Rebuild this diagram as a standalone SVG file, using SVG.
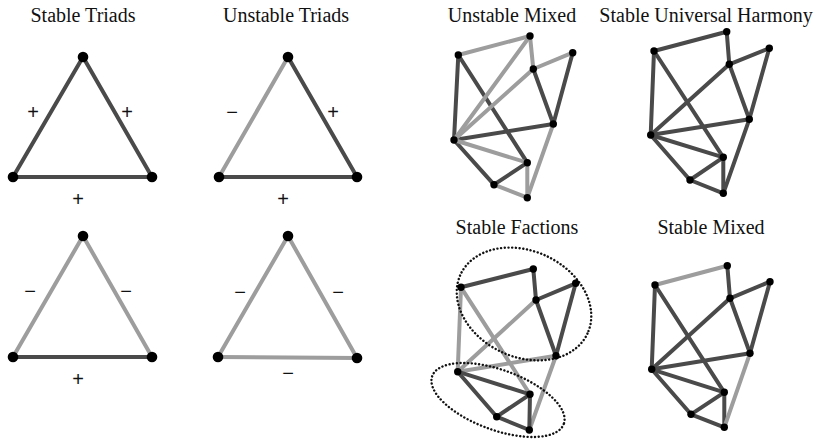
<svg xmlns="http://www.w3.org/2000/svg" width="828" height="440" viewBox="0 0 828 440">
<style>
.title{font-family:"Liberation Serif","Times New Roman",serif;font-size:20px;fill:#111;text-anchor:middle}
.sign{font-family:"Liberation Sans",Arial,sans-serif;font-size:20px;fill:#111;text-anchor:middle}
.dk{stroke:#4a4a4a;stroke-width:4;stroke-linecap:round;fill:none}
.lt{stroke:#9d9d9d;stroke-width:4;stroke-linecap:round;fill:none}
.nd{fill:#000}
.ring{fill:none;stroke:#111;stroke-width:2.4;stroke-linecap:round;stroke-dasharray:0.1 3.6}
</style>
<rect width="828" height="440" fill="#fff"/>

<g id="titles">
<text class="title" x="83" y="22">Stable Triads</text>
<text class="title" x="286" y="22">Unstable Triads</text>
<text class="title" x="512" y="22">Unstable Mixed</text>
<text class="title" x="706" y="22">Stable Universal Harmony</text>
<text class="title" x="517" y="234">Stable Factions</text>
<text class="title" x="711" y="234">Stable Mixed</text>
</g>

<g id="connectors">
<!-- triad 1 -->
<line class="dk" x1="13" y1="177" x2="83" y2="57"/>
<line class="dk" x1="83" y1="57" x2="152" y2="177"/>
<line class="dk" x1="13" y1="177" x2="152" y2="177"/>
<!-- triad 2 -->
<line class="lt" x1="219" y1="177" x2="288" y2="57"/>
<line class="dk" x1="288" y1="57" x2="357" y2="177"/>
<line class="dk" x1="219" y1="177" x2="357" y2="177"/>
<!-- triad 3 -->
<line class="lt" x1="13" y1="357" x2="83" y2="236"/>
<line class="lt" x1="83" y1="236" x2="152" y2="357"/>
<line class="dk" x1="13" y1="357" x2="152" y2="357"/>
<!-- triad 4 -->
<line class="lt" x1="218" y1="357" x2="288" y2="236"/>
<line class="lt" x1="288" y1="236" x2="357" y2="358"/>
<line class="lt" x1="218" y1="357" x2="357" y2="358"/>

<!-- Unstable Mixed -->
<line class="dk" x1="572.7" y1="52.7" x2="553.3" y2="124"/>
<line class="dk" x1="533.3" y1="69" x2="553.3" y2="124"/>
<line class="dk" x1="458.3" y1="55" x2="454" y2="140"/>
<line class="dk" x1="458.3" y1="55" x2="527.3" y2="162.7"/>
<line class="dk" x1="454" y1="140" x2="553.3" y2="124"/>
<line class="dk" x1="454" y1="140" x2="494" y2="184.7"/>
<line class="dk" x1="494" y1="184.7" x2="527.3" y2="162.7"/>
<line class="lt" x1="458.3" y1="55" x2="530" y2="36"/>
<line class="lt" x1="530" y1="36" x2="533.3" y2="69"/>
<line class="lt" x1="530" y1="36" x2="454" y2="140"/>
<line class="lt" x1="454" y1="140" x2="533.3" y2="69"/>
<line class="lt" x1="533.3" y1="69" x2="572.7" y2="52.7"/>
<line class="lt" x1="454" y1="140" x2="527.3" y2="162.7"/>
<line class="lt" x1="494" y1="184.7" x2="527.3" y2="197.7"/>
<line class="lt" x1="527.3" y1="162.7" x2="527.3" y2="197.7"/>
<line class="lt" x1="553.3" y1="124" x2="527.3" y2="197.7"/>

<!-- Stable Universal Harmony -->
<line class="dk" x1="654" y1="51" x2="726.7" y2="31.7"/>
<line class="dk" x1="726.7" y1="31.7" x2="729.3" y2="64.3"/>
<line class="dk" x1="729.3" y1="64.3" x2="769.3" y2="48.3"/>
<line class="dk" x1="650.7" y1="135" x2="729.3" y2="64.3"/>
<line class="dk" x1="769.3" y1="48.3" x2="749.3" y2="119.3"/>
<line class="dk" x1="729.3" y1="64.3" x2="749.3" y2="119.3"/>
<line class="dk" x1="654" y1="51" x2="650.7" y2="135"/>
<line class="dk" x1="654" y1="51" x2="723.3" y2="157.3"/>
<line class="dk" x1="650.7" y1="135" x2="749.3" y2="119.3"/>
<line class="dk" x1="650.7" y1="135" x2="723.3" y2="157.3"/>
<line class="dk" x1="650.7" y1="135" x2="690" y2="180"/>
<line class="dk" x1="690" y1="180" x2="723.3" y2="157.3"/>
<line class="dk" x1="690" y1="180" x2="723.3" y2="193.3"/>
<line class="dk" x1="723.3" y1="157.3" x2="723.3" y2="193.3"/>
<line class="dk" x1="749.3" y1="119.3" x2="723.3" y2="193.3"/>

<!-- Stable Factions -->
<line class="dk" x1="461" y1="287.3" x2="533.3" y2="269"/>
<line class="dk" x1="533.3" y1="269" x2="536" y2="300"/>
<line class="dk" x1="536" y1="300" x2="575.7" y2="283.3"/>
<line class="dk" x1="575.7" y1="283.3" x2="556" y2="355.7"/>
<line class="dk" x1="536" y1="300" x2="556" y2="355.7"/>
<line class="lt" x1="461" y1="287.3" x2="457.7" y2="371.7"/>
<line class="lt" x1="461" y1="287.3" x2="530" y2="394.3"/>
<line class="lt" x1="457.7" y1="371.7" x2="536" y2="300"/>
<line class="lt" x1="457.7" y1="371.7" x2="556" y2="355.7"/>
<line class="lt" x1="556" y1="355.7" x2="529.3" y2="430"/>
<line class="dk" x1="457.7" y1="371.7" x2="530" y2="394.3"/>
<line class="dk" x1="457.7" y1="371.7" x2="496.7" y2="416.7"/>
<line class="dk" x1="496.7" y1="416.7" x2="530" y2="394.3"/>
<line class="dk" x1="496.7" y1="416.7" x2="529.3" y2="430"/>
<line class="dk" x1="530" y1="394.3" x2="529.3" y2="430"/>

<!-- Stable Mixed -->
<line class="lt" x1="655" y1="285" x2="727.3" y2="265.7"/>
<line class="dk" x1="727.3" y1="265.7" x2="730" y2="298.3"/>
<line class="dk" x1="730" y1="298.3" x2="770" y2="281.7"/>
<line class="dk" x1="651.7" y1="369.3" x2="730" y2="298.3"/>
<line class="dk" x1="770" y1="281.7" x2="750" y2="353.3"/>
<line class="dk" x1="730" y1="298.3" x2="750" y2="353.3"/>
<line class="dk" x1="655" y1="285" x2="651.7" y2="369.3"/>
<line class="dk" x1="655" y1="285" x2="724.3" y2="392.3"/>
<line class="dk" x1="651.7" y1="369.3" x2="750" y2="353.3"/>
<line class="dk" x1="651.7" y1="369.3" x2="724.3" y2="392.3"/>
<line class="dk" x1="651.7" y1="369.3" x2="691" y2="414.3"/>
<line class="dk" x1="691" y1="414.3" x2="724.3" y2="392.3"/>
<line class="dk" x1="691" y1="414.3" x2="724.3" y2="427.3"/>
<line class="dk" x1="724.3" y1="392.3" x2="724.3" y2="427.3"/>
<line class="lt" x1="750" y1="353.3" x2="724.3" y2="427.3"/>
</g>

<g id="faction-rings">
<ellipse class="ring" cx="524" cy="304" rx="70" ry="53" transform="rotate(25 524 304)"/>
<ellipse class="ring" cx="498" cy="400" rx="70" ry="30" transform="rotate(20 498 400)"/>
</g>

<g id="signs">
<text class="sign" x="33" y="119">+</text>
<text class="sign" x="127" y="119">+</text>
<text class="sign" x="78" y="206">+</text>
<text class="sign" x="232" y="119">−</text>
<text class="sign" x="333" y="119">+</text>
<text class="sign" x="283" y="206">+</text>
<text class="sign" x="30" y="298">−</text>
<text class="sign" x="126" y="298">−</text>
<text class="sign" x="78" y="386">+</text>
<text class="sign" x="240" y="299">−</text>
<text class="sign" x="338" y="299">−</text>
<text class="sign" x="288" y="380">−</text>
</g>

<g id="triad1-top"><circle class="nd" cx="83" cy="57" r="5.3"/></g>
<g id="triad1-left"><circle class="nd" cx="13" cy="177" r="5.3"/></g>
<g id="triad1-right"><circle class="nd" cx="152" cy="177" r="5.3"/></g>
<g id="triad2-top"><circle class="nd" cx="288" cy="57" r="5.3"/></g>
<g id="triad2-left"><circle class="nd" cx="219" cy="177" r="5.3"/></g>
<g id="triad2-right"><circle class="nd" cx="357" cy="177" r="5.3"/></g>
<g id="triad3-top"><circle class="nd" cx="83" cy="236" r="5.3"/></g>
<g id="triad3-left"><circle class="nd" cx="13" cy="357" r="5.3"/></g>
<g id="triad3-right"><circle class="nd" cx="152" cy="357" r="5.3"/></g>
<g id="triad4-top"><circle class="nd" cx="288" cy="236" r="5.3"/></g>
<g id="triad4-left"><circle class="nd" cx="218" cy="357" r="5.3"/></g>
<g id="triad4-right"><circle class="nd" cx="357" cy="358" r="5.3"/></g>

<g id="um-a"><circle class="nd" cx="458.3" cy="55" r="3.7"/></g>
<g id="um-b"><circle class="nd" cx="530" cy="36" r="3.7"/></g>
<g id="um-c"><circle class="nd" cx="572.7" cy="52.7" r="3.7"/></g>
<g id="um-d"><circle class="nd" cx="533.3" cy="69" r="3.7"/></g>
<g id="um-e"><circle class="nd" cx="553.3" cy="124" r="3.7"/></g>
<g id="um-f"><circle class="nd" cx="454" cy="140" r="3.7"/></g>
<g id="um-g"><circle class="nd" cx="527.3" cy="162.7" r="3.7"/></g>
<g id="um-h"><circle class="nd" cx="494" cy="184.7" r="3.7"/></g>
<g id="um-i"><circle class="nd" cx="527.3" cy="197.7" r="3.7"/></g>

<g id="uh-a"><circle class="nd" cx="654" cy="51" r="3.7"/></g>
<g id="uh-b"><circle class="nd" cx="726.7" cy="31.7" r="3.7"/></g>
<g id="uh-c"><circle class="nd" cx="769.3" cy="48.3" r="3.7"/></g>
<g id="uh-d"><circle class="nd" cx="729.3" cy="64.3" r="3.7"/></g>
<g id="uh-e"><circle class="nd" cx="749.3" cy="119.3" r="3.7"/></g>
<g id="uh-f"><circle class="nd" cx="650.7" cy="135" r="3.7"/></g>
<g id="uh-g"><circle class="nd" cx="723.3" cy="157.3" r="3.7"/></g>
<g id="uh-h"><circle class="nd" cx="690" cy="180" r="3.7"/></g>
<g id="uh-i"><circle class="nd" cx="723.3" cy="193.3" r="3.7"/></g>

<g id="sf-a"><circle class="nd" cx="461" cy="287.3" r="3.7"/></g>
<g id="sf-b"><circle class="nd" cx="533.3" cy="269" r="3.7"/></g>
<g id="sf-c"><circle class="nd" cx="575.7" cy="283.3" r="3.7"/></g>
<g id="sf-d"><circle class="nd" cx="536" cy="300" r="3.7"/></g>
<g id="sf-e"><circle class="nd" cx="556" cy="355.7" r="3.7"/></g>
<g id="sf-f"><circle class="nd" cx="457.7" cy="371.7" r="3.7"/></g>
<g id="sf-g"><circle class="nd" cx="530" cy="394.3" r="3.7"/></g>
<g id="sf-h"><circle class="nd" cx="496.7" cy="416.7" r="3.7"/></g>
<g id="sf-i"><circle class="nd" cx="529.3" cy="430" r="3.7"/></g>

<g id="sm-a"><circle class="nd" cx="655" cy="285" r="3.7"/></g>
<g id="sm-b"><circle class="nd" cx="727.3" cy="265.7" r="3.7"/></g>
<g id="sm-c"><circle class="nd" cx="770" cy="281.7" r="3.7"/></g>
<g id="sm-d"><circle class="nd" cx="730" cy="298.3" r="3.7"/></g>
<g id="sm-e"><circle class="nd" cx="750" cy="353.3" r="3.7"/></g>
<g id="sm-f"><circle class="nd" cx="651.7" cy="369.3" r="3.7"/></g>
<g id="sm-g"><circle class="nd" cx="724.3" cy="392.3" r="3.7"/></g>
<g id="sm-h"><circle class="nd" cx="691" cy="414.3" r="3.7"/></g>
<g id="sm-i"><circle class="nd" cx="724.3" cy="427.3" r="3.7"/></g>
</svg>
